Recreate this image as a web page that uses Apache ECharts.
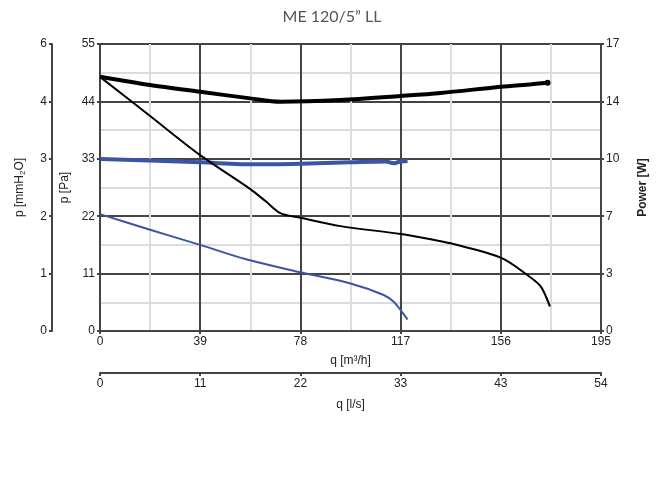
<!DOCTYPE html>
<html><head><meta charset="utf-8">
<script src="https://cdn.jsdelivr.net/npm/echarts@6/dist/echarts.min.js"></script>
<style>html,body{margin:0;padding:0;background:#fff}#c{width:664px;height:497px}</style>
</head><body><div id="c"></div>
<script>
// Data (q in m³/h)
const titleText = 'ME 120/5\u201d LL';
const qTicksM3h = [0, 39, 78, 117, 156, 195];
const paTicks = [0, 11, 22, 33, 44, 55];
const powerTicks = [0, 3.4, 6.8, 10.2, 13.6, 17];

// thin black: pressure [Pa]
const qPressBlack = [0, 19.5, 39, 58.5, 64.4, 70.2, 78, 93.6, 117, 128.7, 136.5, 156, 166.4, 171.6, 175.1];
const pPressBlack = [48.7, 41.2, 33.7, 27.2, 24.9, 22.6, 21.7, 20.1, 18.6, 17.6, 16.8, 14.05, 10.7, 8.5, 4.7];

// thick black: power [W]
const qPowerBlack = [0, 19.5, 39, 58.5, 70.2, 93.6, 117, 132.6, 156, 168, 174.2];
const wPowerBlack = [15.06, 14.57, 14.17, 13.78, 13.58, 13.68, 13.92, 14.10, 14.47, 14.62, 14.71];

// thin blue: pressure [Pa]
const qPressBlue = [0, 19.5, 39, 56.5, 78, 97.5, 110.4, 114.3, 117, 119.7];
const pPressBlue = [22.4, 19.4, 16.5, 13.8, 11.25, 9.1, 6.9, 5.6, 4.0, 2.2];

// thick blue: power [W]
const qPowerBlue = [0, 39, 60.5, 78, 97.5, 111.2, 114.3, 116.2, 119.7];
const wPowerBlue = [10.19, 9.99, 9.87, 9.91, 9.99, 10.04, 9.93, 10.01, 10.07];

const zip = (a, b) => a.map((v, i) => [v, b[i]]);
const DARK = '#444';
const LBL = {color: '#222', fontSize: 12, fontFamily: 'Liberation Sans, Arial, sans-serif'};
const NAME = {color: '#222', fontSize: 12, fontFamily: 'Liberation Sans, Arial, sans-serif'};

const chart = echarts.init(document.getElementById('c'), null, {renderer: 'canvas'});
const lastBlack = qPowerBlack.length - 1;
chart.setOption({
  animation: false,
  backgroundColor: '#fff',
  title: {text: titleText, left: 'center', top: 4,
    textStyle: {fontFamily: 'Lato, sans-serif', fontWeight: 'normal', fontSize: 16, color: '#555'}},
  grid: {left: 100, right: 63, top: 44, bottom: 166, containLabel: false},
  xAxis: [
    {type: 'value', position: 'bottom', min: qTicksM3h[0], max: qTicksM3h[qTicksM3h.length-1], interval: 39,
     name: 'q [m³/h]', nameLocation: 'middle', nameGap: 24, nameTextStyle: NAME,
     axisLine: {show: true, onZero: false, lineStyle: {color: DARK, width: 2}},
     axisTick: {show: true, length: 3, lineStyle: {color: DARK, width: 2}},
     axisLabel: Object.assign({margin: 5}, LBL),
     splitLine: {show: true, lineStyle: {color: DARK, width: 2}},
     minorTick: {show: false, splitNumber: 2},
     minorSplitLine: {show: true, lineStyle: {color: '#dcdcdc', width: 2}}},
    {type: 'value', position: 'bottom', offset: 42, min: qTicksM3h[0], max: qTicksM3h[qTicksM3h.length-1], interval: 39,
     name: 'q [l/s]', nameLocation: 'middle', nameGap: 26, nameTextStyle: NAME,
     axisLine: {show: true, onZero: false, lineStyle: {color: DARK, width: 2}},
     axisTick: {show: true, length: 3, lineStyle: {color: DARK, width: 2}},
     axisLabel: Object.assign({margin: 5, formatter: v => String(Math.round(v / 3.6))}, LBL),
     splitLine: {show: false}}
  ],
  yAxis: [
    {type: 'value', position: 'left', min: 0, max: 55, interval: 11,
     name: 'p [Pa]', nameLocation: 'middle', nameGap: 24, nameRotate: 90, nameTextStyle: NAME,
     axisLine: {show: true, onZero: false, lineStyle: {color: DARK, width: 2}},
     axisTick: {show: true, length: 3, lineStyle: {color: DARK, width: 2}},
     axisLabel: Object.assign({margin: 5}, LBL),
     splitLine: {show: true, lineStyle: {color: DARK, width: 2}},
     minorTick: {show: false, splitNumber: 2},
     minorSplitLine: {show: true, lineStyle: {color: '#dcdcdc', width: 2}}},
    {type: 'value', position: 'left', offset: 48, min: 0, max: 55, interval: 11,
     name: '{a|p [mmH}{s|2}{a|O]}', nameLocation: 'middle', nameGap: 26, nameRotate: 90,
     nameTextStyle: {rich: {a: NAME, s: {color: '#222', fontSize: 8, fontFamily: 'Liberation Sans, Arial, sans-serif', padding: [0, 0, -5, 0]}}},
     axisLine: {show: true, onZero: false, lineStyle: {color: DARK, width: 2}},
     axisTick: {show: true, length: 3, lineStyle: {color: DARK, width: 2}},
     axisLabel: Object.assign({margin: 5, formatter: v => String(Math.round(v / 9.80665))}, LBL),
     splitLine: {show: false}},
    {type: 'value', position: 'right', min: powerTicks[0], max: powerTicks[powerTicks.length-1], interval: 3.4,
     name: 'Power [W]', nameLocation: 'middle', nameGap: 36, nameRotate: 90,
     nameTextStyle: Object.assign({}, NAME, {fontWeight: 'bold'}),
     axisLine: {show: true, onZero: false, lineStyle: {color: DARK, width: 2}},
     axisTick: {show: true, length: 3, lineStyle: {color: DARK, width: 2}},
     axisLabel: Object.assign({margin: 5, formatter: v => String(Math.round(v))}, LBL),
     splitLine: {show: false}}
  ],
  series: [
    {type: 'line', name: 'pressure blue', xAxisIndex: 0, yAxisIndex: 0, data: zip(qPressBlue, pPressBlue),
     showSymbol: false, smooth: 0.3, lineStyle: {color: '#3a55a8', width: 2}, z: 3},
    {type: 'line', name: 'power blue', xAxisIndex: 0, yAxisIndex: 2, data: zip(qPowerBlue, wPowerBlue),
     showSymbol: false, smooth: 0.3, lineStyle: {color: '#3a55a8', width: 4}, z: 3},
    {type: 'line', name: 'pressure black', xAxisIndex: 0, yAxisIndex: 0, data: zip(qPressBlack, pPressBlack),
     showSymbol: false, smooth: 0.3, lineStyle: {color: '#000', width: 2}, z: 4},
    {type: 'line', name: 'power black', xAxisIndex: 0, yAxisIndex: 2, data: zip(qPowerBlack, wPowerBlack),
     symbol: 'circle', showAllSymbol: true,
     symbolSize: (v, p) => p.dataIndex === lastBlack ? 6 : 0,
     itemStyle: {color: '#000'},
     smooth: 0.3, lineStyle: {color: '#000', width: 4}, z: 4}
  ]
});
</script></body></html>
